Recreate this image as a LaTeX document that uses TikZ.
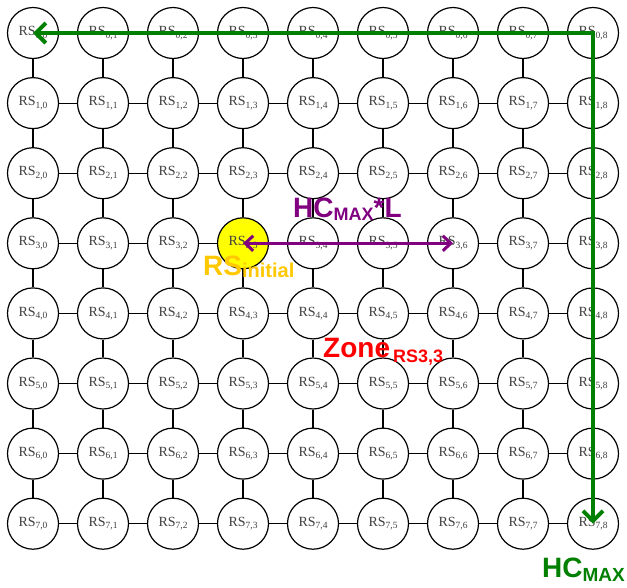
\documentclass[tikz,border=0pt]{standalone}
\usepackage{fontspec}
\setmainfont{Liberation Serif}
\newfontfamily\labfont{Liberation Sans}
\usetikzlibrary{arrows.meta}
\definecolor{grn}{RGB}{0,128,0}
\definecolor{pur}{RGB}{128,0,128}
\definecolor{gld}{RGB}{255,200,0}
\definecolor{rd}{RGB}{255,0,0}
\definecolor{ylw}{RGB}{255,255,0}
\newcommand\rslab[2]{{\fontsize{14}{14}\selectfont RS\raisebox{-2.5pt}{\fontsize{9.5}{9.5}\selectfont #1,#2}}}
\begin{document}
\begin{tikzpicture}[x=1pt,y=-1pt,
  rsnode/.style={circle, draw=black, line width=1.2pt, minimum size=51pt, inner sep=0pt, fill=white, text=black!75},
  rs-3-3/.style={fill=ylw},
  link/.style={draw=black, line width=1.2pt},
  bigarrow/.style={line width=4pt, draw=grn, {Straight Barb[length=10pt,width=20pt]}-{Straight Barb[length=10pt,width=20pt]}},
  midarrow/.style={line width=3pt, draw=pur, {Straight Barb[length=8pt,width=15pt]}-{Straight Barb[length=8pt,width=15pt]}},
  lab/.style={anchor=base west, inner sep=0pt, font=\labfont\bfseries}
]
\useasboundingbox (0,0) rectangle (627,587);
\foreach \i in {0,...,7}{
  \foreach \j in {0,...,8}{
    \node[rsnode, rs-\i-\j/.try] (n-\i-\j) at ({33+70*\j},{33+70.1*\i}) {\rslab{\i}{\j}};
  }
}
\foreach \i in {0,...,7}{
  \foreach \j [evaluate=\j as \jn using int(\j+1)] in {0,...,7}{
    \draw[link] (n-\i-\j) -- (n-\i-\jn);
  }
}
\foreach \i [evaluate=\i as \in using int(\i+1)] in {0,...,6}{
  \foreach \j in {0,...,8}{
    \draw[link] (n-\i-\j) -- (n-\in-\j);
  }
}
\draw[bigarrow] (n-0-0.center) -- (n-0-8.center) -- (n-7-8.center);
\draw[midarrow] (n-3-3.center) -- (n-3-6.center);
\node[lab, text=pur] (hcl) at (293,217) {\fontsize{28}{28}\selectfont HC\raisebox{-3pt}{\fontsize{18}{18}\selectfont MAX}*L};
\node[lab, text=gld] (rsi) at (203,275) {\fontsize{28}{28}\selectfont RS\raisebox{-2pt}{\fontsize{20}{20}\selectfont initial}};
\node[lab, text=rd] (zone) at (323,357) {\fontsize{28}{28}\selectfont Zone\kern3pt\raisebox{-5pt}{\fontsize{18}{18}\selectfont RS3,3}};
\node[lab, text=grn] (hcm) at (542,577) {\fontsize{28}{28}\selectfont HC\raisebox{-4pt}{\fontsize{19}{19}\selectfont MAX}};
\end{tikzpicture}
\end{document}
